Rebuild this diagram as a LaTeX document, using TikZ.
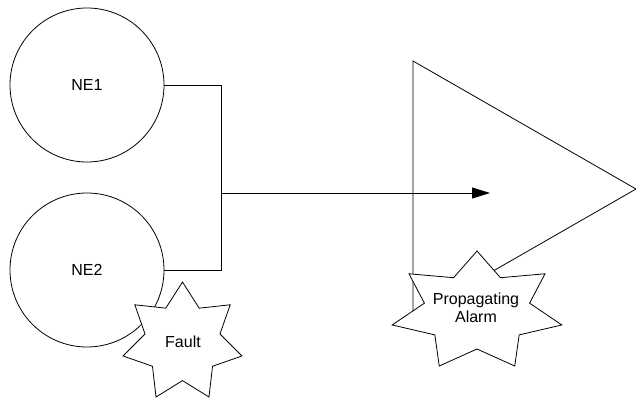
\documentclass[tikz,border=0pt]{standalone}
\usepackage{fontspec}
\setmainfont{Liberation Sans}
\usetikzlibrary{arrows.meta}
\newcommand{\mystarpoly}[5]{% cx cy rx ry innerratio
  \draw[starline] plot[samples at={0,...,13}, variable=\k]
    ({#1+(1-(1-#5)*mod(\k,2))*#3*cos(90+\k*360/14)},
     {#2-(1-(1-#5)*mod(\k,2))*#4*sin(90+\k*360/14)}) -- cycle;}
\begin{document}
\begin{tikzpicture}[x=1pt,y=-1pt,
  every node/.style={font=\fontsize{16}{18}\selectfont},
  line/.style={line width=0.8pt,black},
  starline/.style={line width=0.8pt,black,fill=white},
  nebox/.style={circle,draw,line width=0.8pt,minimum size=154pt,inner sep=0pt},
  txt/.style={inner sep=0pt,align=center}]
\useasboundingbox (0,0) rectangle (636,398);
% triangle
\coordinate (t1) at (413,61);
\coordinate (t2) at (636,189);
\coordinate (t3) at (413,317);
\draw[line] (t1) -- (t2) -- (t3) -- cycle;
% network elements
\node[nebox] (ne1) at (87,85) {NE1};
\node[nebox] (ne2) at (87,270) {NE2};
\coordinate (j1) at (221,85);
\coordinate (j2) at (221,270);
\coordinate (js) at (221,193);
\coordinate (je) at (490,193);
\draw[line] (ne1.east) -- (j1) -- (j2) -- (ne2.east);
\draw[line,-{Triangle[length=18pt,width=11pt]}] (js) -- (je);
% stars
\mystarpoly{182.5}{342.5}{61}{60.5}{0.63}
\node[txt] (fault) at (183,342) {Fault};
\mystarpoly{477}{311.5}{87}{60.5}{0.62}
\node[txt] (alarm) at (476,308) {Propagating\\Alarm};
\end{tikzpicture}
\end{document}
